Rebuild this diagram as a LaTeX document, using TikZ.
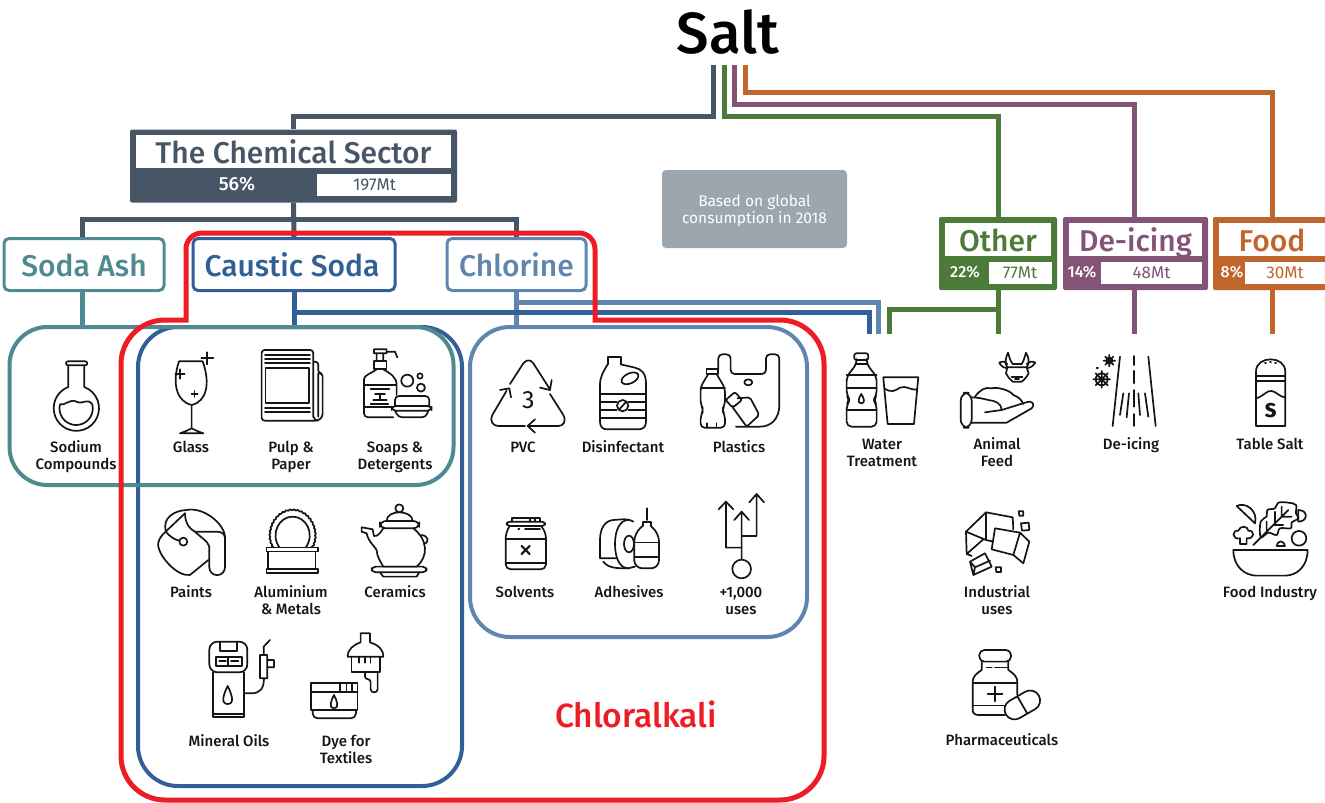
\documentclass[tikz,border=0pt]{standalone}
\usepackage{fontspec}
\setmainfont{Fira Sans}
\newfontfamily\titlefont{Fira Sans Medium}
\usetikzlibrary{positioning, decorations.pathmorphing}
\definecolor{chemcol}{HTML}{465666}
\definecolor{sodacol}{HTML}{4E8A8F}
\definecolor{causticcol}{HTML}{325F97}
\definecolor{chlorinecol}{HTML}{5F86AE}
\definecolor{alkalicol}{HTML}{EE1C25}
\definecolor{othercol}{HTML}{4C7A38}
\definecolor{icingcol}{HTML}{845478}
\definecolor{foodcol}{HTML}{C0652B}
\definecolor{notecol}{HTML}{9BA6AF}
\definecolor{inkcol}{HTML}{151515}

\begin{document}
\begin{tikzpicture}[
        x=1pt, y=-1pt,
        every node/.style={align=center, inner sep=0pt, font=\titlefont\fontsize{15}{17}\selectfont, text=inkcol},
        headbox/.style={rectangle, rounded corners=2pt, minimum height=73pt},
        titlebox/.style={fill=white, minimum height=33pt, text height=24pt, text depth=.4pt, font=\titlefont\fontsize{30}{33}\selectfont},
        statbox/.style={fill=white, minimum height=22pt, font=\fontsize{17}{19}\selectfont},
        pctlabel/.style={text=white, font=\titlefont\fontsize{16}{18}\selectfont},
        subbox/.style={draw, line width=3pt, rounded corners=5pt, fill=white, minimum height=52pt, text height=24pt, text depth=.4pt, font=\titlefont\fontsize{30}{33}\selectfont},
        groupbox/.style={draw, line width=4pt, rounded corners=40pt},
        link/.style={line width=5pt},
        icon/.style={line width=1.7pt, line join=round, line cap=round, draw=inkcol},
        leftzoom/.style={shift={(0,320)}, x=.3333pt, y=-.3333pt},
        midzoom/.style={shift={(460,320)}, x=.3333pt, y=-.3333pt},
        lowzoom/.style={shift={(120,610)}, x=.3333pt, y=-.3333pt},
        rightzoom/.style={shift={(930,340)}, x=.3333pt, y=-.3333pt}
    ]
    \clip (0,0) rectangle (1325,803);

    % Nodes
    \node (salt) at (728,32) {\titlefont\fontsize{58}{60}\selectfont\textcolor{black}{Salt}};
    \coordinate (salt_chem) at (713,65);
    \coordinate (salt_other) at (724,65);
    \coordinate (salt_icing) at (734,65);
    \coordinate (salt_food) at (745,65);

    \node (chem) [headbox, fill=chemcol, minimum width=327pt] at (293.5,166) {};
    \node (chem_title) [titlebox, minimum width=315pt, text=chemcol] at (293.5,151.5) {The Chemical Sector};
    \node (chem_pct) [pctlabel, font=\titlefont\fontsize{19}{21}\selectfont] at (237,184) {56\%};
    \node (chem_white) [statbox, minimum width=134pt] at (384,184.5) {};
    \node (chem_amount) [statbox, text=chemcol] at (374.5,185) {197Mt};

    \node (other) [headbox, fill=othercol, minimum width=118pt] at (998,253.5) {};
    \node (other_title) [titlebox, minimum width=106pt, text=othercol] at (998,239.5) {Other};
    \node (other_pct) [pctlabel] at (965,272) {22\%};
    \node (other_amount) [statbox, minimum width=63pt, text=othercol] at (1020,273) {77Mt};

    \node (icing) [headbox, fill=icingcol, minimum width=145pt] at (1135.5,253.5) {};
    \node (icing_title) [titlebox, minimum width=133pt, text=icingcol] at (1135.5,239.5) {De-icing};
    \node (icing_pct) [pctlabel] at (1082,272) {14\%};
    \node (icing_amount) [statbox, minimum width=101pt, text=icingcol] at (1151.5,273) {48Mt};

    \node (food) [headbox, fill=foodcol, minimum width=118pt] at (1272,253.5) {};
    \node (food_title) [titlebox, minimum width=106pt, text=foodcol] at (1272,239.5) {Food};
    \node (food_pct) [pctlabel] at (1232,272) {8\%};
    \node (food_amount) [statbox, minimum width=80pt, text=foodcol] at (1285,273) {30Mt};

    \node (note) [fill=notecol, rounded corners=4pt, minimum width=185pt, minimum height=78pt] at (754.5,209) {};
    \node (note_text) [text=white, font=\fontsize{15.5}{17.5}\selectfont] at (754.5,211) {Based on global\\consumption in 2018};

    \node (soda) [subbox, draw=sodacol, text=sodacol, minimum width=160pt] at (84,264.5) {Soda Ash};
    \node (caustic) [subbox, draw=causticcol, text=causticcol, minimum width=202pt] at (294,264.5) {\hspace*{-4pt}Caustic Soda};
    \node (chlorine) [subbox, draw=chlorinecol, text=chlorinecol, minimum width=139pt] at (516.5,264.5) {Chlorine};

    \coordinate (water_top) at (869,334);
    \coordinate (water_mid) at (878,334);
    \coordinate (water_end) at (889,334);
    \coordinate (other_end) at (998,334);
    \coordinate (icing_end) at (1134,334);
    \coordinate (food_end) at (1272,334);

    % Groups
    \node (caustic_group) [groupbox, draw=causticcol, minimum width=324pt, minimum height=459pt] at (300,556.5) {};
    \node (chlorine_group) [groupbox, draw=chlorinecol, minimum width=337pt, minimum height=310pt] at (638.5,482) {};

    % Connections
    \draw[link, draw=chemcol] (salt_chem) -- ++(0,51) -| (chem.north);
    \draw[link, draw=othercol] (salt_other) -- ++(0,51) -| (other.north);
    \draw[link, draw=icingcol] (salt_icing) -- ++(0,39) -| (icing_end |- icing.north);
    \draw[link, draw=foodcol] (salt_food) -- ++(0,27) -| (food.north);
    \draw[link, draw=chemcol] (chem.south) -- (caustic.north);
    \draw[link, draw=chemcol] ([xshift=-2pt]soda.north) |- (chem.south |- 0,219) -| (chlorine.north);
    \draw[link, draw=sodacol] ([xshift=-2pt]soda.south) -- ++(0,36);
    \draw[link, draw=causticcol] (caustic.south) -- (caustic.south |- caustic_group.north);
    \draw[link, draw=chlorinecol] (chlorine.south) -- (chlorine.south |- chlorine_group.north);
    \draw[link, draw=chlorinecol] (chlorine.south |- 0,302) -| (water_mid);
    \draw[link, draw=causticcol] (caustic.south |- 0,312) -| (water_top);
    \draw[link, draw=othercol] (other.south |- 0,309) -| (water_end);
    \draw[link, draw=othercol] (other.south) -- (other_end);
    \draw[link, draw=icingcol] (icing_end |- icing.south) -- (icing_end);
    \draw[link, draw=foodcol] (food.south) -- (food_end);

    \node (soda_group) [groupbox, draw=sodacol, minimum width=444pt, minimum height=158pt, rounded corners=38pt] at (231.5,406) {};

    % Chloralkali outline
    \draw[line width=5pt, draw=alkalicol] (186,320) -- (186,249) arc (180:270:16) -- (579,233) arc (270:360:16) -- (595,320) -- (780,320) arc (270:360:44) -- (824,756) arc (0:90:44) -- (165,800) arc (90:180:44) -- (121,364) arc (180:270:44) -- cycle;
    \node (chloralkali) [font=\titlefont\fontsize{33.5}{36}\selectfont, text=alkalicol] at (636,714) {Chloralkali};

    % Labels
    \node (sodium_text) at (76,457) {Sodium\\Compounds};
    \node (glass_text) at (191,447) {Glass};
    \node (pulp_text) at (291,457) {Pulp \&\\Paper};
    \node (soaps_text) at (395,457) {Soaps \&\\Detergents};
    \node (paints_text) at (191,592) {Paints};
    \node (metals_text) at (291,600.5) {Aluminium\\\& Metals};
    \node (ceramics_text) at (395,592) {Ceramics};
    \node (oils_text) at (229,741) {Mineral Oils};
    \node (dye_text) at (346,749.5) {Dye for\\Textiles};
    \node (pvc_text) at (523,447) {PVC};
    \node (disinfectant_text) at (623,447) {Disinfectant};
    \node (plastics_text) at (739,447) {Plastics};
    \node (solvents_text) at (525,592) {Solvents};
    \node (adhesives_text) at (629,592) {Adhesives};
    \node (uses_text) at (741,600.5) {+1,000\\uses};
    \node (water_text) at (882,452.5) {Water\\Treatment};
    \node (feed_text) at (997,452.5) {Animal\\Feed};
    \node (icing_text) at (1131,445.5) {De-icing};
    \node (table_text) at (1270,444) {Table Salt};
    \node (industrial_text) at (997,600.5) {Industrial\\uses};
    \node (foodind_text) at (1270,593.5) {Food Industry};
    \node (pharma_text) at (1002,740) {Pharmaceuticals};

    % Icons, left block
    \begin{scope}[leftzoom]
        % flask
        \draw[icon] (205,136) -- (205,201) arc (-110.7:-429.3:68) -- (253,136);
        \draw[icon, rounded corners=2pt] (198,124) rectangle (262,136);
        \draw[icon] (180,253) arc (-166:-374:50) .. controls (262,232) and (250,255) .. (229,245) .. controls (210,235) and (195,258) .. cycle;
        % glass
        \draw[icon] (537,124) -- (608,124) .. controls (632,190) and (620,245) .. (575,255) .. controls (530,245) and (515,190) .. cycle;
        \draw[icon] (575,255) -- (575,325) (540,340) .. controls (555,335) and (565,330) .. (575,325) .. controls (585,330) and (595,335) .. (610,340) -- cycle;
        \draw[icon] (604,115) -- (640,115) (622,97) -- (622,133) (526,162) -- (554,162) (540,148) -- (540,176) (575,222) -- (593,222) (584,213) -- (584,231);
        % paper
        \draw[icon, rounded corners=3pt] (940,290) -- (940,90) -- (785,90) -- (785,302) -- (955,302) -- (968,290) -- (968,160) -- (955,160) -- (955,125) -- (940,125);
        \draw[icon] (797,145) rectangle (928,250);
        \draw[icon] (795,105) -- (930,105) (795,118) -- (930,118) (795,130) -- (930,130) (795,263) -- (930,263) (795,277) -- (930,277);
        \draw[icon] (940,290) .. controls (942,298) and (948,302) .. (955,302) (955,160) -- (955,290);
        % soap
        \draw[icon] (1122,88) rectangle (1160,100) (1160,95) -- (1185,95) -- (1192,112) (1130,100) -- (1130,122) (1150,100) -- (1150,122);
        \draw[icon] (1122,122) rectangle (1160,148);
        \draw[icon, rounded corners=4pt] (1130,148) .. controls (1115,160) and (1092,165) .. (1092,190) -- (1092,292) -- (1180,292);
        \draw[icon] (1150,148) .. controls (1170,160) and (1190,170) .. (1190,195) -- (1190,225);
        \draw[icon] (1092,195) -- (1188,195) (1092,262) -- (1175,262) (1112,208) -- (1168,208) (1125,222) -- (1155,222) (1140,222) -- (1140,240) (1120,240) -- (1160,240) (1112,252) -- (1165,252);
        \draw[icon] (1222,182) circle (18) (1260,168) circle (8) (1263,203) circle (12);
        \draw[icon, rounded corners=4pt] (1185,258) -- (1185,228) -- (1288,228) -- (1288,258) (1175,258) rectangle (1295,272) (1185,272) -- (1195,292) -- (1278,292) -- (1285,272);
        % paint bucket
        \draw[icon] (555,580) -- (497,635) .. controls (480,650) and (472,665) .. (475,680) .. controls (480,710) and (530,770) .. (570,765) -- (625,720);
        \draw[icon] (497,632) .. controls (488,595) and (520,572) .. (560,570) .. controls (610,560) and (672,610) .. (675,650) -- (675,742) arc (0:180:23.5) -- (628,680);
        \draw[icon] (555,580) .. controls (555,610) and (570,628) .. (585,635) -- (650,635) .. controls (665,635) and (675,642) .. (675,655);
        \draw[icon] (550,665) circle (12) (497,635) .. controls (510,650) and (525,660) .. (538,662) (585,635) .. controls (600,650) and (625,665) .. (628,680);
        % plate
        \draw[icon, decorate, decoration={bumps, segment length=7.5pt, amplitude=1.3pt}] (822,682) .. controls (795,640) and (825,572) .. (878,572) .. controls (931,572) and (961,640) .. (934,682);
        \draw[icon] (838,682) .. controls (810,640) and (838,590) .. (878,590) .. controls (918,590) and (946,640) .. (918,682);
        \draw[icon] (800,683) rectangle (955,695) (805,695) rectangle (947,748) (800,748) rectangle (955,760);
        % teapot
        \draw[icon] (1198,565) circle (12) (1160,603) .. controls (1160,585) and (1180,577) .. (1198,577) .. controls (1216,577) and (1238,585) .. (1238,603);
        \draw[icon, rounded corners=6pt] (1140,603) rectangle (1258,625);
        \draw[icon] (1150,625) .. controls (1140,640) and (1133,650) .. (1122,648) -- (1118,628) -- (1085,622) -- (1085,635) -- (1100,640) .. controls (1105,665) and (1125,680) .. (1130,690) .. controls (1130,710) and (1145,730) .. (1150,740) -- (1250,740) .. controls (1285,710) and (1285,660) .. (1240,625);
        \draw[icon] (1265,645) .. controls (1285,648) and (1290,665) .. (1272,672);
        \draw[icon, rounded corners=4pt] (1115,740) rectangle (1280,757);
        \draw[icon] (1140,757) -- (1150,770) -- (1250,770) -- (1258,757);
    \end{scope}

    % Icons, middle block
    \begin{scope}[midzoom]
        % recycling triangle
        \draw[icon] (150,192) -- (190,130) .. controls (200,118) and (212,118) .. (220,130) -- (270,208) (240,203) -- (270,210) -- (275,180);
        \draw[icon] (140,212) -- (97,285) .. controls (88,305) and (100,318) .. (115,318) -- (195,318) (120,210) -- (148,205) -- (153,232);
        \draw[icon] (270,222) -- (310,285) .. controls (320,305) and (310,318) .. (295,318) -- (205,318) (225,298) -- (203,318) -- (225,338);
        \node (pvc_number) [font=\fontsize{25}{27}\selectfont] at (205,240) {3};
        % jug
        \draw[icon] (443,133) -- (443,110) -- (482,110) -- (482,133);
        \draw[icon] (443,133) .. controls (430,155) and (420,170) .. (420,195) -- (420,305) .. controls (420,320) and (428,328) .. (440,328) -- (535,328) .. controls (550,328) and (558,320) .. (558,305) -- (558,190) .. controls (558,160) and (545,148) .. (525,143) -- (482,133);
        \draw[icon, rotate around={25:(510,175)}] (510,175) ellipse (27 and 15);
        \draw[icon] (420,222) -- (558,222) (420,245) -- (470,245) (506,245) -- (558,245) (420,270) -- (470,270) (506,270) -- (558,270) (420,295) -- (558,295);
        \draw[icon] (488,257) circle (17) (478,268) -- (498,246);
        % bag and bottles
        \draw[icon, rounded corners=4pt] (775,148) -- (775,103) -- (812,103) -- (812,162) -- (918,162) -- (918,103) -- (958,103) -- (958,255);
        \draw[icon] (958,255) .. controls (958,300) and (930,320) .. (900,320) -- (828,320);
        \draw[icon] (865,187) ellipse (12 and 9);
        \draw[icon] (740,148) rectangle (775,162);
        \draw[icon, rounded corners=4pt] (745,162) -- (722,200) -- (722,255) -- (732,270) -- (722,285) -- (722,323) -- (795,323) -- (795,285) -- (785,270) -- (795,255) -- (795,205) -- (770,162);
        \draw[icon] (722,205) -- (795,205) (742,323) -- (742,310) (770,323) -- (770,310);
        \draw[icon, rounded corners=2pt] (797,240) -- (825,216) -- (846,240) -- (818,263) -- cycle (833,235) -- (870,232) -- (898,285) -- (860,320) -- (818,262);
        % jar
        \draw[icon, rounded corners=3pt] (140,605) rectangle (255,618);
        \draw[icon] (155,605) -- (155,594) -- (240,594) -- (240,605) (210,594) -- (210,605) (225,594) -- (225,605);
        \draw[icon, rounded corners=5pt] (148,620) -- (137,640) -- (137,748) -- (258,748) -- (258,640) -- (245,620);
        \draw[icon] (137,657) -- (258,657) (137,730) -- (258,730) (175,627) -- (178,627) (195,627) -- (240,627);
        \draw[icon, line width=2.2pt] (185,678) -- (209,702) (209,678) -- (185,702);
        % tape and glue
        \draw[icon] (520,605) .. controls (505,595) and (490,598) .. (460,600) .. controls (435,602) and (420,625) .. (420,660) -- (420,715) -- (470,715);
        \draw[icon] (505,600) .. controls (480,600) and (465,630) .. (465,672) .. controls (465,715) and (480,745) .. (505,745) -- (525,740);
        \draw[icon] (430,725) .. controls (445,745) and (470,745) .. (505,745);
        \draw[icon] (507,672) ellipse (15 and 25);
        \draw[icon] (560,565) -- (560,600) (548,618) -- (548,605) -- (572,605) -- (572,618);
        \draw[icon, rounded corners=8pt] (548,618) -- (523,640) -- (523,745) -- (597,745) -- (597,640) -- (572,618);
        \draw[icon] (523,668) -- (597,668) (523,712) -- (597,712);
        % arrows
        \draw[icon] (845,747) circle (28) (845,719) -- (845,575) (823,600) -- (845,575) -- (867,600);
        \draw[icon] (845,683) -- (798,683) -- (798,545) (776,568) -- (798,545) -- (820,568);
        \draw[icon] (845,648) -- (890,648) -- (890,522) (868,547) -- (890,522) -- (912,547);
        % bottle and tumbler
        \draw[icon, rounded corners=2pt] (1183,100) rectangle (1225,120);
        \draw[icon, rounded corners=5pt] (1190,120) -- (1190,132) -- (1160,170) -- (1160,225) -- (1170,240) -- (1160,255) -- (1160,320) -- (1250,320) -- (1250,255) -- (1240,240) -- (1250,225) -- (1250,170) -- (1220,132) -- (1220,120);
        \draw[icon] (1160,165) -- (1250,165) (1160,205) -- (1250,205) (1160,270) -- (1250,270) (1188,132) -- (1222,132);
        \draw[icon] (1204,222) .. controls (1195,235) and (1192,250) .. (1204,250) .. controls (1216,250) and (1213,235) .. cycle;
        \draw[icon] (1270,172) -- (1375,172) -- (1362,312) -- (1283,312) -- cycle;
        \draw[icon] (1273,205) .. controls (1295,220) and (1305,212) .. (1320,203) .. controls (1340,195) and (1350,212) .. (1372,208);
    \end{scope}

    % Icons, lower block
    \begin{scope}[lowzoom]
        % fuel pump
        \draw[icon, rounded corners=8pt] (268,187) -- (268,95) -- (382,95) -- (382,187) -- cycle;
        \draw[icon] (300,95) -- (300,122) -- (350,122) -- (350,95);
        \draw[icon] (288,140) rectangle (365,168) (298,153) -- (318,153) (333,153) -- (355,153) (325,140) -- (325,168);
        \draw[icon] (278,187) -- (278,322) -- (372,322) -- (372,187) (278,312) -- (372,312);
        \draw[icon] (323,228) .. controls (312,250) and (300,282) .. (323,282) .. controls (346,282) and (334,250) .. cycle;
        \draw[icon] (372,250) -- (395,250) .. controls (420,250) and (432,235) .. (432,205) (420,135) rectangle (442,205);
        \draw[icon] (431,135) -- (431,110) -- (450,90) (442,150) -- (462,150) -- (462,172) -- (442,172);
        % dye tub and brush
        \draw[icon] (573,218) rectangle (713,300) (573,245) -- (713,245) (660,218) -- (660,245) (680,218) -- (680,245) (697,218) -- (697,245);
        \draw[icon, rounded corners=5pt] (578,300) -- (578,325) -- (708,325) -- (708,300);
        \draw[icon] (642,255) .. controls (633,272) and (625,295) .. (642,295) .. controls (659,295) and (651,272) .. cycle;
        \draw[icon] (722,70) -- (750,70) -- (750,97) .. controls (775,105) and (790,118) .. (790,140) -- (683,140) .. controls (683,118) and (700,105) .. (722,97) -- cycle;
        \draw[icon] (695,140) -- (695,187) -- (780,187) -- (780,140) (718,142) -- (718,158) (735,142) -- (735,158) (752,142) -- (752,158);
        \draw[icon] (735,187) -- (735,200) .. controls (735,210) and (752,205) .. (752,215) -- (752,238) .. controls (752,250) and (773,250) .. (773,238) -- (773,187);
    \end{scope}

    % Icons, right block
    \begin{scope}[rightzoom]
        % hand and feed
        \draw[icon, rounded corners=8pt] (92,158) rectangle (125,263);
        \draw[icon] (125,248) -- (230,248) -- (305,205) .. controls (318,195) and (305,180) .. (292,186) -- (215,210) .. controls (215,190) and (195,182) .. (175,180) .. controls (155,175) and (140,172) .. (125,172);
        \draw[icon] (215,210) -- (165,217);
        \draw[icon] (135,170) .. controls (150,150) and (165,140) .. (185,145) .. controls (200,140) and (240,150) .. (250,165) .. controls (265,170) and (275,180) .. (280,192);
        % cow
        \draw[icon] (232,82) -- (290,82) -- (296,100) .. controls (290,112) and (280,122) .. (275,125) -- (248,125) .. controls (240,118) and (232,110) .. (228,100) -- cycle;
        \draw[icon] (232,82) .. controls (222,70) and (228,50) .. (234,38) .. controls (238,50) and (240,62) .. (248,72) -- (275,72) .. controls (282,62) and (284,50) .. (288,38) .. controls (296,50) and (300,70) .. (290,82);
        \draw[icon] (228,84) .. controls (215,82) and (210,72) .. (208,68) .. controls (218,62) and (228,65) .. (232,72) (294,84) .. controls (305,82) and (312,74) .. (316,68) .. controls (306,62) and (296,65) .. (290,72);
        \draw[icon] (245,110) -- (277,110) (255,118) -- (267,118);
        % road
        \draw[icon] (570,50) -- (548,258) (655,50) -- (677,258) (612,48) -- (612,75) (612,92) -- (612,130) (612,150) -- (612,200) (612,222) -- (612,258);
        \draw[icon] (580,160) -- (570,225) (597,160) -- (590,232) (625,160) -- (630,225) (645,160) -- (655,230);
        \draw[icon] (515,118) circle (18) (490,118) -- (540,118) (515,93) -- (515,143) (497,100) -- (533,136) (533,100) -- (497,136);
        \draw[icon] (538,62) circle (9) (538,45) -- (538,79) (521,62) -- (555,62) (526,50) -- (550,74) (550,50) -- (526,74);
        \draw[icon] (500,85) -- (504,85);
        % shaker
        \draw[icon] (978,258) -- (978,95) .. controls (978,70) and (1000,58) .. (1022,58) .. controls (1044,58) and (1066,70) .. (1066,95) -- (1066,258) -- cycle;
        \draw[icon] (978,108) -- (1066,108) (978,122) -- (1066,122) (1005,68) -- (1008,68) (1020,66) -- (1023,66) (1035,68) -- (1038,68);
        \draw[icon] (978,175) .. controls (1000,170) and (1010,150) .. (1025,153) .. controls (1040,155) and (1050,172) .. (1066,172);
        \node (shaker_letter) [font=\titlefont\bfseries\fontsize{20}{22}\selectfont] at (1022,213) {S};
        % cubes
        \draw[icon] (108,575) -- (168,517) -- (248,532) -- (250,568) (108,575) -- (110,642) -- (160,598) (108,575) -- (168,600) -- (168,517) (168,600) -- (190,605) (110,642) -- (125,648);
        \draw[icon] (195,565) -- (270,578) -- (298,605) -- (280,670) -- (250,645) -- (185,628) -- cycle (270,578) -- (250,645);
        \draw[icon] (120,665) -- (165,640) -- (185,680) -- (130,705) -- cycle (120,665) -- (135,682) -- (180,662) (135,682) -- (130,705);
        \draw[icon] (266,514) -- (280,514) -- (280,527) -- (268,527) -- cycle (273,550) -- (296,548) -- (298,570) -- (276,572) -- cycle (197,682) -- (213,682) -- (213,696) -- (199,696) -- cycle;
        % salad
        \draw[icon] (910,630) -- (1133,630) .. controls (1133,680) and (1100,707) .. (1065,707) -- (980,707) .. controls (945,707) and (910,680) .. (910,630);
        \draw[icon] (970,615) -- (1075,510) (1010,575) -- (1010,545) (1035,550) -- (1035,515) (1030,555) -- (1060,555) (1055,530) -- (1055,500) (1055,530) -- (1085,530);
        \draw[icon] plot [smooth cycle, tension=.6] coordinates {(992,592) (992,545) (1010,530) (1012,510) (1035,505) (1045,488) (1075,488) (1098,495) (1098,520) (1105,535) (1085,548) (1082,565) (1050,565) (1040,585) (1015,578)};
        \draw[icon] (920,498) .. controls (945,485) and (985,510) .. (975,550) -- cycle;
        \draw[icon] (1105,510) -- (1105,545) .. controls (1135,545) and (1135,510) .. cycle;
        \draw[icon] (1107,595) circle (22);
        \draw[icon] (930,612) -- (930,595) .. controls (905,600) and (905,570) .. (925,572) .. controls (930,555) and (955,558) .. (955,572) .. controls (975,570) and (975,598) .. (950,595) -- (950,612) -- cycle;
        \draw[icon] (1040,618) .. controls (1042,600) and (1063,600) .. (1065,618) -- cycle;
        % medicine
        \draw[icon, rounded corners=5pt] (148,930) rectangle (243,965);
        \draw[icon] (155,965) -- (155,990) .. controls (140,1000) and (128,1010) .. (128,1025) -- (128,1110) .. controls (128,1120) and (135,1125) .. (145,1125) -- (225,1125);
        \draw[icon] (235,965) -- (235,990) .. controls (250,1000) and (262,1010) .. (262,1025) -- (262,1065);
        \draw[icon] (170,983) -- (185,983) (195,983) -- (235,983) (128,1030) -- (262,1030) (128,1097) -- (222,1097) (195,1040) -- (195,1084) (173,1062) -- (217,1062);
        \draw[icon, fill=white, rotate around={30:(277,1095)}] (250,1065) -- (304,1065) arc (-90:90:30) -- (250,1125) arc (90:270:30) -- cycle (277,1065) -- (277,1125);
    \end{scope}
\end{tikzpicture}
\end{document}
